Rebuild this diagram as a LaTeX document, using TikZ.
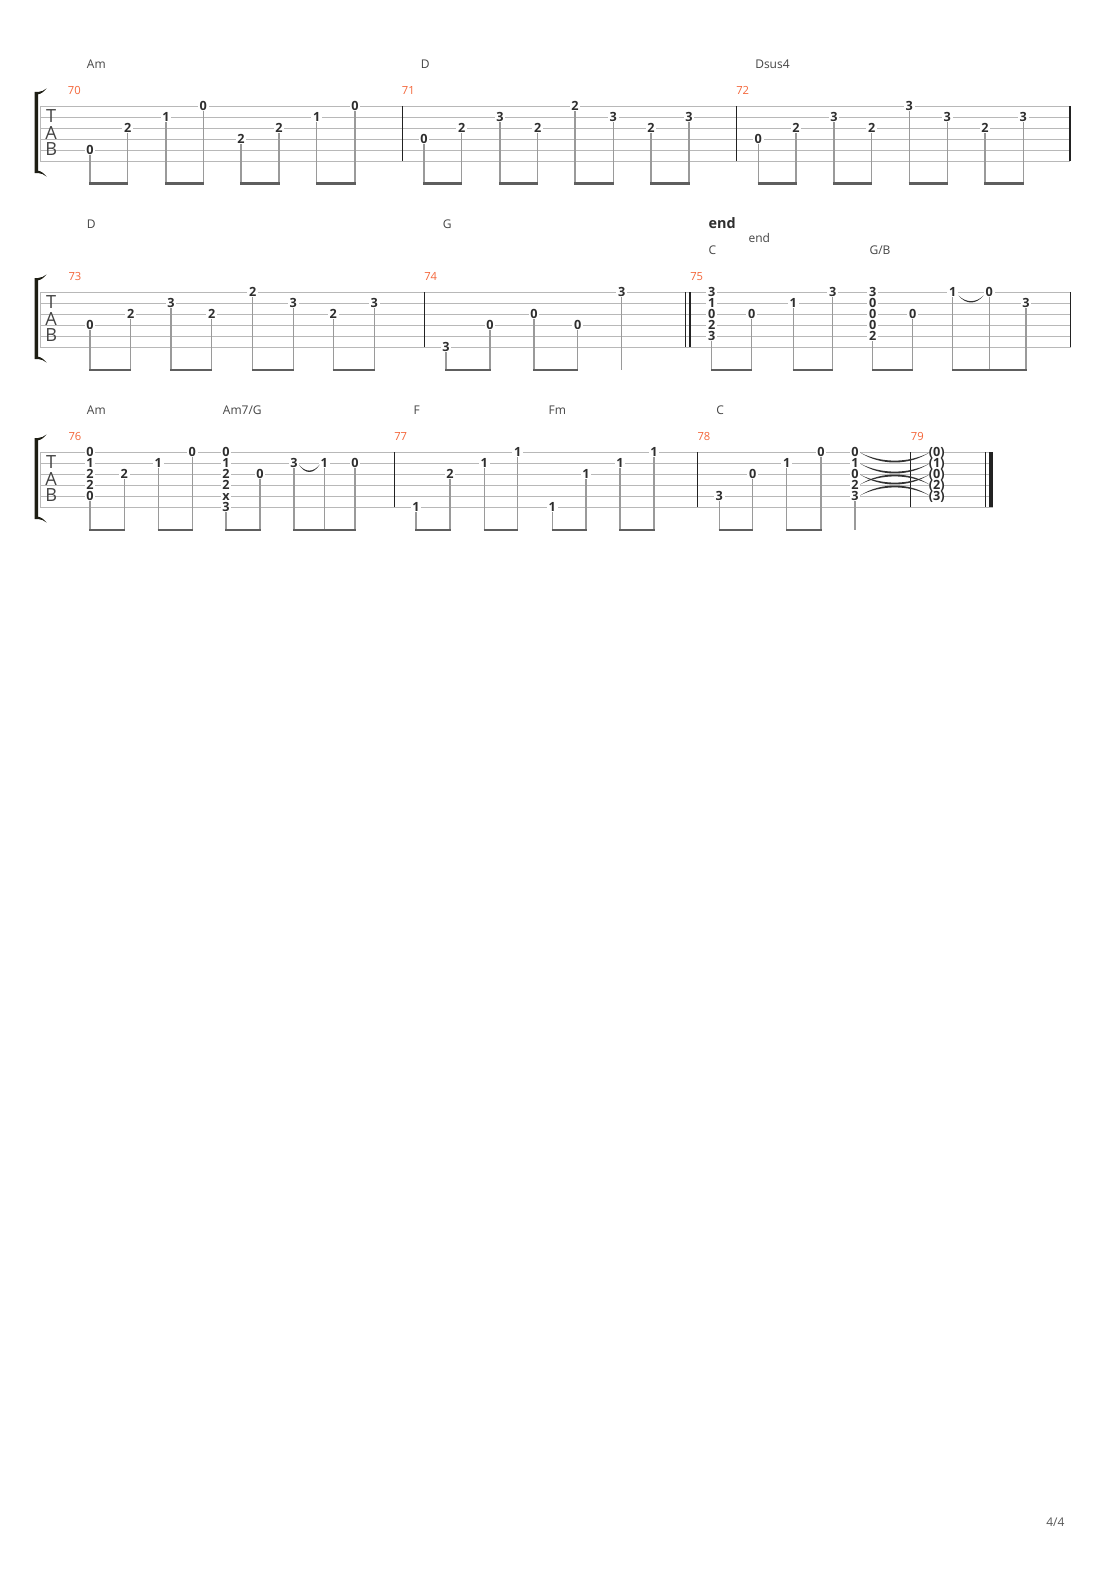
\documentclass[tikz,border=0pt]{standalone}
\usepackage{fontspec}
\setmainfont{Open Sans}
\definecolor{staffgray}{HTML}{B8B8B8}
\definecolor{bardark}{HTML}{222222}
\definecolor{stemgray}{HTML}{9A9A9A}
\definecolor{beamgray}{HTML}{5E5E5E}
\definecolor{numdark}{HTML}{2E2E2E}
\definecolor{chordgray}{HTML}{444444}
\definecolor{barorange}{HTML}{F4663A}
\definecolor{bracketcol}{HTML}{1E1E14}
\definecolor{tiecol}{HTML}{333333}
\newcount\notecnt
\newcommand\Nt[3]{\global\advance\notecnt by 1\relax
  \node[fretnum] (n\the\notecnt) at (#1,{\SysTop+11*(#2-1)}) {#3};
  \xdef\lastnote{n\the\notecnt}}
\newcommand\StmL{\draw[stemline] (\lastnote.south) -- (\lastnote.south |- 0,\BeamY);}
\newcommand\Bm[2]{\draw[beamline] ({#1-0.6},\BeamY) -- ({#2+0.6},\BeamY);}
\newcommand\Pair[6]{\Nt{#1}{#2}{#3}\StmL\Nt{#4}{#5}{#6}\StmL\Bm{#1}{#4}}
\newcommand\Tie[4]{\fill[tiecol] (#1,#3) .. controls ({#1+(#2-#1)*0.3},{#3+#4*1.33}) and ({#2-(#2-#1)*0.3},{#3+#4*1.33}) .. (#2,#3)
  .. controls ({#2-(#2-#1)*0.3},{#3+#4*1.08}) and ({#1+(#2-#1)*0.3},{#3+#4*1.08}) .. (#1,#3) -- cycle;}
\newcommand\Brk[2]{\fill[bracketcol] (34.6,#1) -- (38,#1) .. controls (41,{#1-0.3}) and (44,{#1-1.3}) .. (46.5,{#1-3.5})
   .. controls (44,{#1-0.5}) and (41,{#1+2}) .. (38,{#1+2.3}) -- (38,{#2-2.3})
   .. controls (41,{#2-2}) and (44,{#2+0.5}) .. (46.5,{#2+3.5})
   .. controls (44,{#2+1.3}) and (41,{#2+0.3}) .. (38,#2) -- (34.6,#2) -- cycle;}
\newcommand\Staff[1]{% right end
  \foreach \s in {0,...,5}{\draw[staffline] (40,{\SysTop+11*\s}) -- (#1,{\SysTop+11*\s});}
  \draw[staffline] (40,\SysTop) -- (40,{\SysTop+55});
  \node[tabletter] (tT\SysTop) at (51.2,{\SysTop+16.8}) {T};
  \node[tabletter] (tA\SysTop) at (51.2,{\SysTop+33.2}) {A};
  \node[tabletter] (tB\SysTop) at (51.2,{\SysTop+49.7}) {B};
  \Brk{\SysTop-14}{\SysTop+67}}
\newcommand\Bar[1]{\draw[barline] (#1,\SysTop) -- (#1,{\SysTop+55});}
\begin{document}
\begin{tikzpicture}[x=0.75pt,y=-0.75pt,
  staffline/.style={draw=staffgray,line width=0.75pt},
  barline/.style={draw=bardark,line width=1pt},
  stemline/.style={draw=stemgray,line width=0.9pt},
  beamline/.style={draw=beamgray,line width=2.2pt},
  fretnum/.style={fill=white,inner xsep=1.3pt,inner ysep=0.4pt,text height=6.8pt,text depth=0pt,
     font=\bfseries\fontsize{9.5}{9}\selectfont,text=numdark},
  fretparen/.style={fretnum,fill=none},
  chordname/.style={anchor=base west,inner sep=0pt,font=\fontsize{9}{9}\selectfont,text=chordgray},
  barnum/.style={anchor=base west,inner sep=0pt,font=\fontsize{8.4}{9}\selectfont,text=barorange},
  tabletter/.style={anchor=base,inner sep=0pt,font=\fontsize{13.6}{14}\selectfont,text=chordgray}]
\useasboundingbox (0,0) rectangle (1110,1570);
\fill[white] (0,0) rectangle (1110,1570);

% ================= System 1 =================
\def\SysTop{106}\def\BeamY{183.5}
\Staff{1070}
\Bar{402.5}\Bar{736.5}\Bar{1070}
\node[barnum] (m70) at (67.7,94) {70};
\node[barnum] (m71) at (401.7,94) {71};
\node[barnum] (m72) at (736,94) {72};
\node[chordname] (c1) at (86.7,68.4) {Am};
\node[chordname] (c2) at (420.7,68.4) {D};
\node[chordname] (c3) at (755,68.4) {Dsus4};
\Pair{90}{5}{0}{127.7}{3}{2}
\Pair{166}{2}{1}{203.3}{1}{0}
\Pair{241}{4}{2}{279}{3}{2}
\Pair{316.7}{2}{1}{355}{1}{0}
\Pair{424}{4}{0}{461.7}{3}{2}
\Pair{500}{2}{3}{537.7}{3}{2}
\Pair{575}{1}{2}{613.3}{2}{3}
\Pair{651}{3}{2}{689}{2}{3}
\Pair{758.3}{4}{0}{796}{3}{2}
\Pair{834}{2}{3}{871.7}{3}{2}
\Pair{909.3}{1}{3}{947.3}{2}{3}
\Pair{985}{3}{2}{1023.3}{2}{3}

% ================= System 2 =================
\def\SysTop{292}\def\BeamY{370}
\Staff{1070.5}
\Bar{424.3}\Bar{685.7}\Bar{690}\Bar{1070.5}
\node[barnum] (m73) at (68.3,280.3) {73};
\node[barnum] (m74) at (424,280.3) {74};
\node[barnum] (m75) at (690,280.3) {75};
\node[chordname] (c4) at (86.7,228.3) {D};
\node[chordname] (c5) at (442.7,228.3) {G};
\node[anchor=base west,inner sep=0pt,font=\bfseries\fontsize{10.8}{11}\selectfont,text=numdark] (endb) at (708.3,228.3) {end};
\node[chordname] (endr) at (748.3,242.3) {end};
\node[chordname] (c6) at (708.3,254) {C};
\node[chordname] (c7) at (869.3,254) {G/B};
\Pair{90}{4}{0}{130.7}{3}{2}
\Pair{171}{2}{3}{211.7}{3}{2}
\Pair{252.7}{1}{2}{293.3}{2}{3}
\Pair{333.3}{3}{2}{374.3}{2}{3}
\Pair{446}{6}{3}{490}{4}{0}
\Pair{534}{3}{0}{577.7}{4}{0}
\Nt{621.7}{1}{3}\StmL
% m75
\Nt{711.7}{1}{3}\Nt{711.7}{2}{1}\Nt{711.7}{3}{0}\Nt{711.7}{4}{2}\Nt{711.7}{5}{3}\StmL
\Nt{751.7}{3}{0}\StmL\Bm{711.7}{751.7}
\Pair{793.3}{2}{1}{832.7}{1}{3}
\Nt{872.7}{1}{3}\Nt{872.7}{2}{0}\Nt{872.7}{3}{0}\Nt{872.7}{4}{0}\Nt{872.7}{5}{2}\StmL
\Nt{912.7}{3}{0}\StmL\Bm{872.7}{912.7}
\Nt{952.7}{1}{1}\StmL\Nt{989.3}{1}{0}\StmL\Nt{1026}{2}{3}\StmL\Bm{952.7}{1026}
\Tie{958.5}{983.5}{295.5}{7}

% ================= System 3 =================
\def\SysTop{452}\def\BeamY{530}
\Staff{993}
\Bar{394.5}\Bar{697.5}\Bar{910.7}\Bar{985.3}
\fill[bardark] (989,452) rectangle (993,507);
\node[barnum] (m76) at (68.3,440.7) {76};
\node[barnum] (m77) at (394,440.7) {77};
\node[barnum] (m78) at (697.3,440.7) {78};
\node[barnum] (m79) at (910.7,440.7) {79};
\node[chordname] (c8) at (86.7,414) {Am};
\node[chordname] (c9) at (222.7,414) {Am7/G};
\node[chordname] (c10) at (413.3,414) {F};
\node[chordname] (c11) at (548.3,414) {Fm};
\node[chordname] (c12) at (716,414) {C};
% m76
\Nt{90}{1}{0}\Nt{90}{2}{1}\Nt{90}{3}{2}\Nt{90}{4}{2}\Nt{90}{5}{0}\StmL
\Nt{124.3}{3}{2}\StmL\Bm{90}{124.3}
\Pair{158.3}{2}{1}{192.3}{1}{0}
\Nt{226}{1}{0}\Nt{226}{2}{1}\Nt{226}{3}{2}\Nt{226}{4}{2}\Nt{226}{5}{x}\Nt{226}{6}{3}\StmL
\Nt{260}{3}{0}\StmL\Bm{226}{260}
\Nt{294}{2}{3}\StmL\Nt{324.3}{2}{1}\StmL\Nt{355}{2}{0}\StmL\Bm{294}{355}
\Tie{298.8}{319.8}{464.5}{7.5}
% m77
\Pair{416}{6}{1}{450}{3}{2}
\Pair{484.3}{2}{1}{517.7}{1}{1}
\Pair{552.3}{6}{1}{586}{3}{1}
\Pair{620}{2}{1}{654}{1}{1}
% m78
\Pair{719.3}{5}{3}{752.7}{3}{0}
\Pair{786.7}{2}{1}{821}{1}{0}
\Nt{855}{1}{0}\Nt{855}{2}{1}\Nt{855}{3}{0}\Nt{855}{4}{2}\Nt{855}{5}{3}\StmL
% ties into m79
\Tie{860}{929.5}{452.5}{10}
\Tie{860}{929.5}{463.5}{10}
\Tie{860}{929.5}{474.5}{10}
\Tie{860}{929.5}{484.5}{-10}
\Tie{860}{929.5}{495.5}{-10}
% m79
\fill[white] (929.5,447) rectangle (944,501);
\foreach \s/\t [count=\k] in {1/0,2/1,3/0,4/2,5/3}{
  \node[fretparen] (p\k) at (936.7,{\SysTop+11*(\s-1)}) {(\t)};}

\node[anchor=base west,inner sep=0pt,font=\fontsize{9}{9}\selectfont,text=chordgray!90] (pg) at (1046,1526.7) {4/4};
\end{tikzpicture}
\end{document}
